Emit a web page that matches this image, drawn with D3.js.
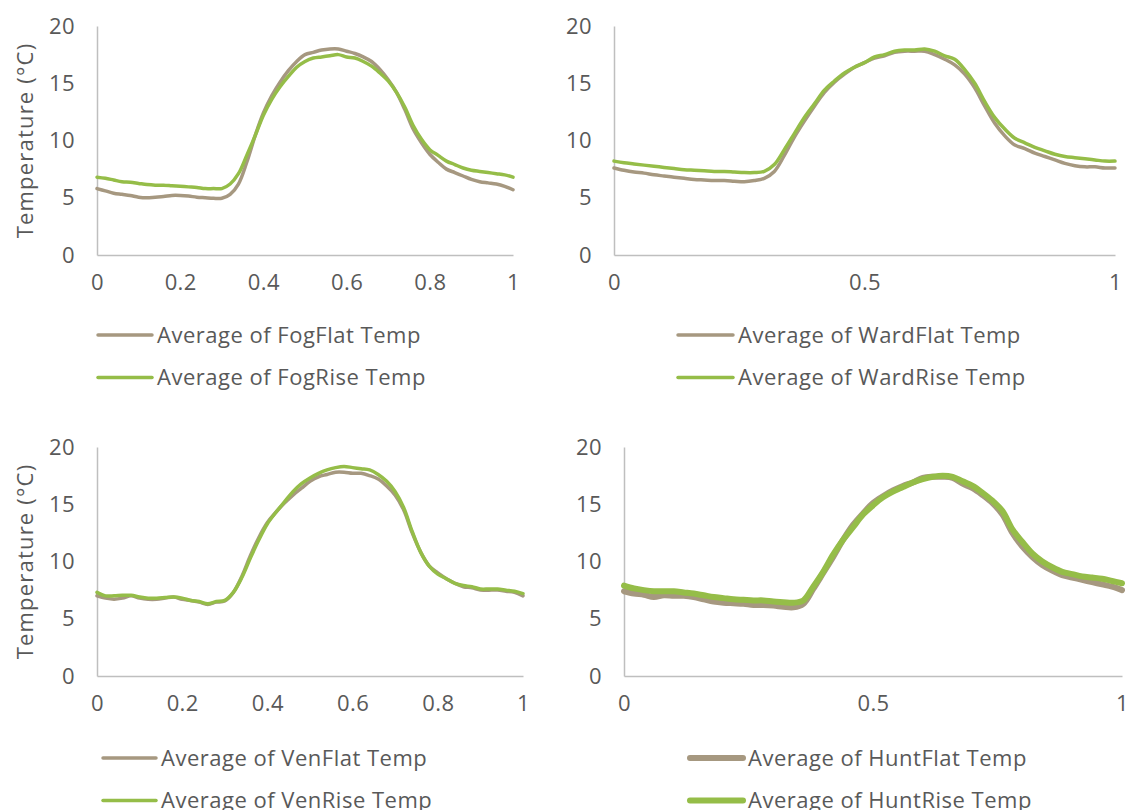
<!DOCTYPE html>
<html>
<head>
<meta charset="utf-8">
<script src="https://cdn.jsdelivr.net/npm/d3@7"></script>
<style>
   body { margin: 0; background: #fff; }
   text { font-family: "Open Sans", "Noto Sans", sans-serif; fill: #595959; }
   .axis path { stroke: #bfbfbf; stroke-width: 1.5; }
   .line { fill: none; stroke-linejoin: round; stroke-linecap: round; }
</style>
</head>
<body>
<svg id="chart" width="1130" height="810"></svg>
<script>
// shared x positions (fraction of the run)
var xs = [0, 0.02, 0.04, 0.06, 0.08, 0.10, 0.12, 0.14, 0.16, 0.18,
   0.20, 0.22, 0.24, 0.26, 0.28, 0.30, 0.32, 0.34, 0.36, 0.38,
   0.40, 0.42, 0.44, 0.46, 0.48, 0.50, 0.52, 0.54, 0.56, 0.58,
   0.60, 0.62, 0.64, 0.66, 0.68, 0.70, 0.72, 0.74, 0.76, 0.78,
   0.80, 0.82, 0.84, 0.86, 0.88, 0.90, 0.92, 0.94, 0.96, 0.98, 1.00];

var fogFlat = [5.8, 5.6, 5.4, 5.3, 5.2, 5.05, 5.0, 5.05, 5.1, 5.2,
   5.2, 5.15, 5.05, 5.0, 4.95, 4.95, 5.3, 6.2, 8.1, 10.4,
   12.4, 13.9, 15.1, 16.1, 16.9, 17.5, 17.7, 17.9, 18.0, 18.0,
   17.8, 17.6, 17.3, 16.9, 16.2, 15.3, 14.2, 12.7, 11.0, 9.8,
   8.8, 8.1, 7.5, 7.2, 6.9, 6.6, 6.4, 6.3, 6.2, 6.0, 5.7];
var fogRise = [6.8, 6.7, 6.55, 6.4, 6.35, 6.25, 6.15, 6.1, 6.1, 6.05,
   6.0, 5.95, 5.9, 5.8, 5.8, 5.8, 6.2, 7.1, 8.7, 10.4,
   12.2, 13.6, 14.7, 15.6, 16.4, 16.9, 17.2, 17.3, 17.4, 17.5,
   17.3, 17.2, 16.9, 16.5, 15.9, 15.2, 14.2, 12.9, 11.3, 10.1,
   9.2, 8.7, 8.2, 7.9, 7.6, 7.4, 7.3, 7.2, 7.1, 7.0, 6.8];

var wardFlat = [7.6, 7.4, 7.25, 7.15, 7.0, 6.9, 6.8, 6.7, 6.6, 6.55,
   6.5, 6.5, 6.45, 6.4, 6.5, 6.7, 7.3, 8.7, 10.3, 11.7,
   13.0, 14.2, 15.1, 15.8, 16.4, 16.8, 17.2, 17.4, 17.7, 17.8,
   17.8, 17.8, 17.5, 17.1, 16.6, 15.8, 14.6, 13.0, 11.5, 10.4,
   9.6, 9.3, 8.9, 8.6, 8.3, 8.0, 7.8, 7.7, 7.7, 7.6, 7.6];
var wardRise = [8.2, 8.05, 7.95, 7.85, 7.75, 7.65, 7.55, 7.45, 7.4, 7.35,
   7.3, 7.3, 7.25, 7.2, 7.2, 7.3, 7.9, 9.2, 10.6, 12.0,
   13.2, 14.4, 15.2, 15.9, 16.4, 16.8, 17.3, 17.5, 17.8, 17.9,
   17.9, 18.0, 17.8, 17.4, 17.1, 16.2, 15.0, 13.4, 12.0, 11.0,
   10.2, 9.8, 9.4, 9.1, 8.8, 8.6, 8.5, 8.4, 8.3, 8.2, 8.2];

var venFlat = [7.0, 6.8, 6.7, 6.8, 7.0, 6.8, 6.7, 6.7, 6.8, 6.9,
   6.7, 6.6, 6.45, 6.25, 6.45, 6.55, 7.3, 8.7, 10.5, 12.1,
   13.4, 14.3, 15.1, 15.8, 16.4, 17.0, 17.4, 17.6, 17.8, 17.8,
   17.7, 17.7, 17.5, 17.2, 16.6, 15.8, 14.5, 12.5, 10.8, 9.6,
   9.0, 8.5, 8.1, 7.8, 7.7, 7.5, 7.5, 7.5, 7.4, 7.3, 7.0];
var venRise = [7.3, 7.0, 7.0, 7.05, 7.05, 6.9, 6.8, 6.8, 6.85, 6.9,
   6.8, 6.6, 6.5, 6.3, 6.5, 6.6, 7.3, 8.6, 10.3, 11.9,
   13.3, 14.3, 15.2, 16.1, 16.8, 17.3, 17.7, 18.0, 18.2, 18.3,
   18.2, 18.1, 18.0, 17.6, 17.0, 16.1, 14.7, 12.6, 10.8, 9.6,
   8.9, 8.5, 8.1, 7.9, 7.8, 7.6, 7.6, 7.6, 7.5, 7.4, 7.2];

var huntFlat = [7.4, 7.2, 7.1, 6.9, 7.05, 7.0, 7.0, 6.9, 6.7, 6.5,
   6.4, 6.35, 6.3, 6.2, 6.2, 6.15, 6.05, 6.0, 6.3, 7.6,
   9.0, 10.4, 11.9, 13.2, 14.2, 15.1, 15.7, 16.2, 16.6, 16.9,
   17.3, 17.4, 17.4, 17.3, 16.8, 16.4, 15.8, 15.1, 14.1, 12.5,
   11.3, 10.4, 9.7, 9.2, 8.8, 8.6, 8.4, 8.2, 8.0, 7.8, 7.5];
var huntRise = [7.9, 7.65, 7.5, 7.4, 7.4, 7.4, 7.3, 7.2, 7.05, 6.9,
   6.8, 6.7, 6.65, 6.6, 6.6, 6.5, 6.45, 6.4, 6.6, 7.8,
   9.1, 10.6, 11.9, 13.0, 14.1, 14.9, 15.6, 16.1, 16.5, 16.9,
   17.2, 17.4, 17.5, 17.4, 17.0, 16.6, 16.0, 15.3, 14.4, 12.8,
   11.7, 10.7, 10.0, 9.5, 9.1, 8.9, 8.7, 8.6, 8.5, 8.3, 8.1];

var yTicks = [0, 5, 10, 15, 20];
var xTicksFine = [0, 0.2, 0.4, 0.6, 0.8, 1];
var xTicksCoarse = [0, 0.5, 1];

var flatColor = "#a69880",
   riseColor = "#95bd48";

var panels = [
   {box: [97, 513, 26, 255], xTicks: xTicksFine, title: true, lw: 3.5,
    series: [["Average of FogFlat Temp", fogFlat], ["Average of FogRise Temp", fogRise]],
    legend: [98, 152, 335]},
   {box: [614, 1115, 26, 255], xTicks: xTicksCoarse, title: false, lw: 3.5,
    series: [["Average of WardFlat Temp", wardFlat], ["Average of WardRise Temp", wardRise]],
    legend: [678, 733, 335]},
   {box: [97, 523, 447, 676], xTicks: xTicksFine, title: true, lw: 3.5,
    series: [["Average of VenFlat Temp", venFlat], ["Average of VenRise Temp", venRise]],
    legend: [103, 156, 758]},
   {box: [624, 1122, 447, 676], xTicks: xTicksCoarse, title: false, lw: 6,
    series: [["Average of HuntFlat Temp", huntFlat], ["Average of HuntRise Temp", huntRise]],
    legend: [690, 743, 758]}
];

var svg = d3.select("#chart");

panels.forEach(function (p) {
   var left = p.box[0], right = p.box[1], top = p.box[2], bottom = p.box[3];
   var colors = [flatColor, riseColor];

   var x = d3.scaleLinear().domain([0, 1]).range([left, right]);
   var y = d3.scaleLinear().domain([0, 20]).range([bottom, top]);

   var g = svg.append("g");

   g.append("g")
    .attr("class", "axis")
    .attr("transform", "translate(0," + bottom + ")")
    .call(d3.axisBottom(x).tickValues(p.xTicks).tickSize(0).tickPadding(19)
       .tickFormat(function (d) { return String(+d.toFixed(1)); }));

   g.append("g")
    .attr("class", "axis")
    .attr("transform", "translate(" + left + ",0)")
    .call(d3.axisLeft(y).tickValues(yTicks).tickSize(0).tickPadding(22));

   g.selectAll(".axis text")
    .attr("fill", "#595959")
    .style("font-family", "'Open Sans', sans-serif")
    .style("font-size", "22px")
    .style("letter-spacing", "0.4px");

   if (p.title) {
      g.append("text")
       .attr("transform", "translate(25," + ((top + bottom) / 2) + ") rotate(-90)")
       .attr("text-anchor", "middle")
       .attr("dy", "0.35em")
       .style("font-size", "22px")
       .style("letter-spacing", "1.2px")
       .text("Temperature (°C)");
   }

   var line = d3.line()
      .x(function (d, i) { return x(xs[i]); })
      .y(function (d) { return y(d); })
      .curve(d3.curveCatmullRom.alpha(0.5));

   p.series.forEach(function (s, k) {
      g.append("path")
       .datum(s[1])
       .attr("class", "line")
       .attr("stroke", colors[k])
       .attr("stroke-width", p.lw)
       .attr("d", line);

      var ly = p.legend[2] + k * 42.5;
      g.append("line")
       .attr("x1", p.legend[0]).attr("x2", p.legend[1])
       .attr("y1", ly).attr("y2", ly)
       .attr("stroke", colors[k])
       .attr("stroke-width", p.lw)
       .attr("stroke-linecap", "round");
      g.append("text")
       .attr("x", p.legend[1] + 5)
       .attr("y", ly)
       .attr("dy", "0.35em")
       .style("font-size", "22px")
       .style("letter-spacing", "0.5px")
       .text(s[0]);
   });
});
</script>
</body>
</html>
